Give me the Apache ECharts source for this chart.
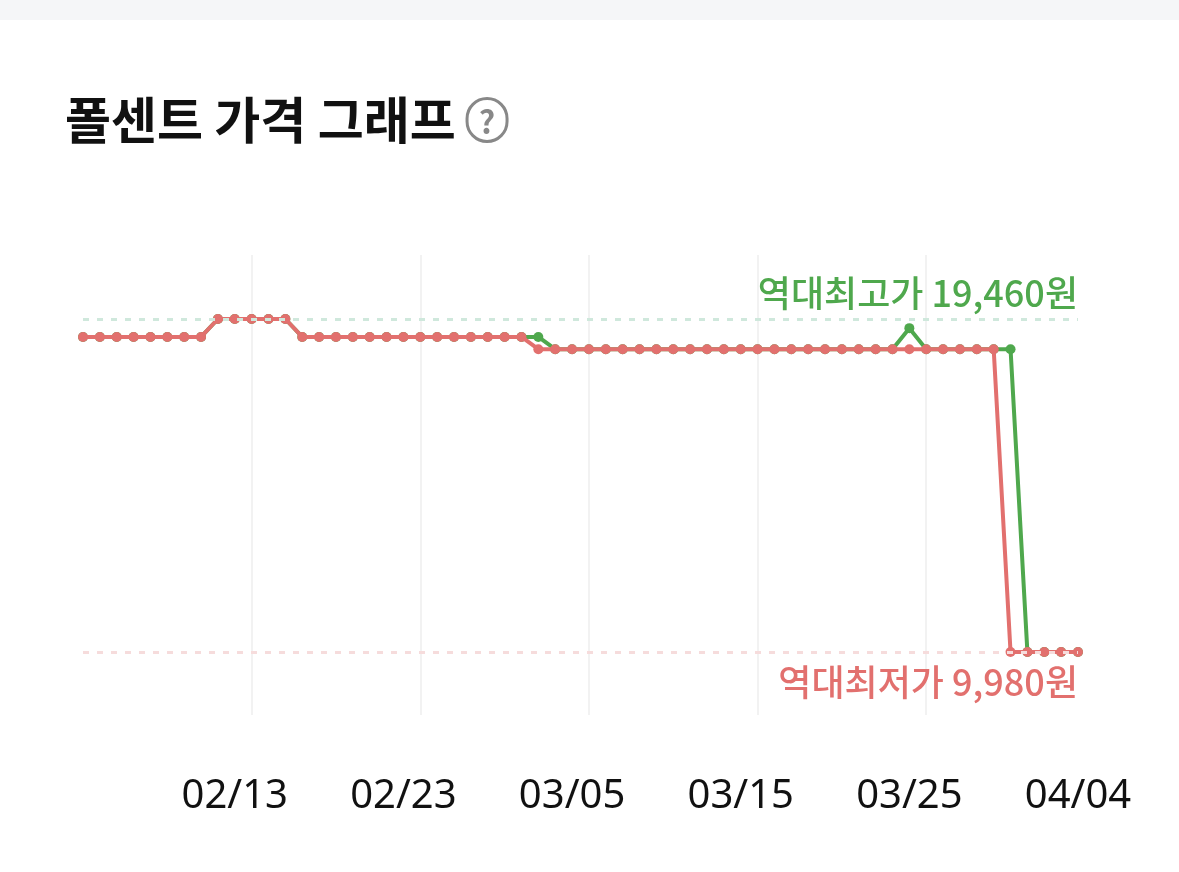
<!DOCTYPE html>
<html><head><meta charset="utf-8">
<script src="https://cdn.jsdelivr.net/npm/echarts@6/dist/echarts.min.js"></script>
<style>html,body{margin:0;padding:0;background:#fff}#top{height:20px;background:#f5f6f8}#c{width:1179px;height:852px}</style>
</head><body><div id="top"></div><div id="c"></div>
<script>
const dates=[];
for(let d=4;d<=28;d++)dates.push('02/'+String(d).padStart(2,'0'));
for(let d=1;d<=31;d++)dates.push('03/'+String(d).padStart(2,'0'));
for(let d=1;d<=4;d++)dates.push('04/'+String(d).padStart(2,'0'));
const lowSeries=[18950,18950,18950,18950,18950,18950,18950,18950,19460,19460,19460,19460,19460,18950,18950,18950,18950,18950,18950,18950,18950,18950,18950,18950,18950,18950,18950,18600,18600,18600,18600,18600,18600,18600,18600,18600,18600,18600,18600,18600,18600,18600,18600,18600,18600,18600,18600,18600,18600,18600,18600,18600,18600,18600,18600,9980,9980,9980,9980,9980];
const highSeries=[18950,18950,18950,18950,18950,18950,18950,18950,19460,19460,19460,19460,19460,18950,18950,18950,18950,18950,18950,18950,18950,18950,18950,18950,18950,18950,18950,18950,18600,18600,18600,18600,18600,18600,18600,18600,18600,18600,18600,18600,18600,18600,18600,18600,18600,18600,18600,18600,18600,19200,18600,18600,18600,18600,18600,18600,9980,9980,9980,9980];
const maxPrice=19460, minPrice=9980;
const green='#4fa84d', red='#e2706e';
const show=(i)=>i>=9&&(i-9)%10===0;
const chart=echarts.init(document.getElementById('c'));
chart.setOption({
  animation:false,
  title:{left:60,top:70,text:'폴센트 가격 그래프 {q|?}',textStyle:{fontSize:50,fontWeight:'bold',color:'#111',fontFamily:'Noto Sans CJK KR',rich:{q:{fontSize:32,color:'#888',width:40,height:40,borderRadius:22,borderWidth:3,borderColor:'#888',align:'center',padding:[3,0,0,0]}}}},
  grid:{left:83,right:101,top:235,bottom:157},
  xAxis:{type:'category',data:dates,boundaryGap:false,
    axisLine:{show:false},axisTick:{show:false},
    axisLabel:{interval:(i)=>show(i),margin:62,fontSize:40,color:'#111',fontFamily:'Noto Sans'},
    splitLine:{show:true,interval:(i)=>i>=10&&(i-10)%10===0,lineStyle:{color:'#eeeeee',width:1.5}}},
  yAxis:{type:'value',min:8187,max:21282,show:false,splitLine:{show:false}},
  series:[
    {name:'high',type:'line',data:highSeries,color:green,symbol:'circle',symbolSize:10,lineStyle:{width:4},z:2,
     markLine:{silent:true,symbol:'none',data:[{yAxis:maxPrice}],lineStyle:{type:[6,8],color:'#cfe8dc',width:3},
       label:{position:'insideEndTop',formatter:'역대최고가 19,460원',color:green,fontSize:36,fontWeight:500,fontFamily:'Noto Sans CJK KR',distance:[0,8]}}},
    {name:'low',type:'line',data:lowSeries,color:red,symbol:'circle',symbolSize:10,lineStyle:{width:4},z:3,
     markLine:{silent:true,symbol:'none',data:[{yAxis:minPrice}],lineStyle:{type:[6,8],color:'#f6dcdc',width:3},
       label:{position:'insideEndBottom',formatter:'역대최저가 9,980원',color:red,fontSize:36,fontWeight:500,fontFamily:'Noto Sans CJK KR',distance:[0,12]}}}
  ]
});
</script></body></html>
